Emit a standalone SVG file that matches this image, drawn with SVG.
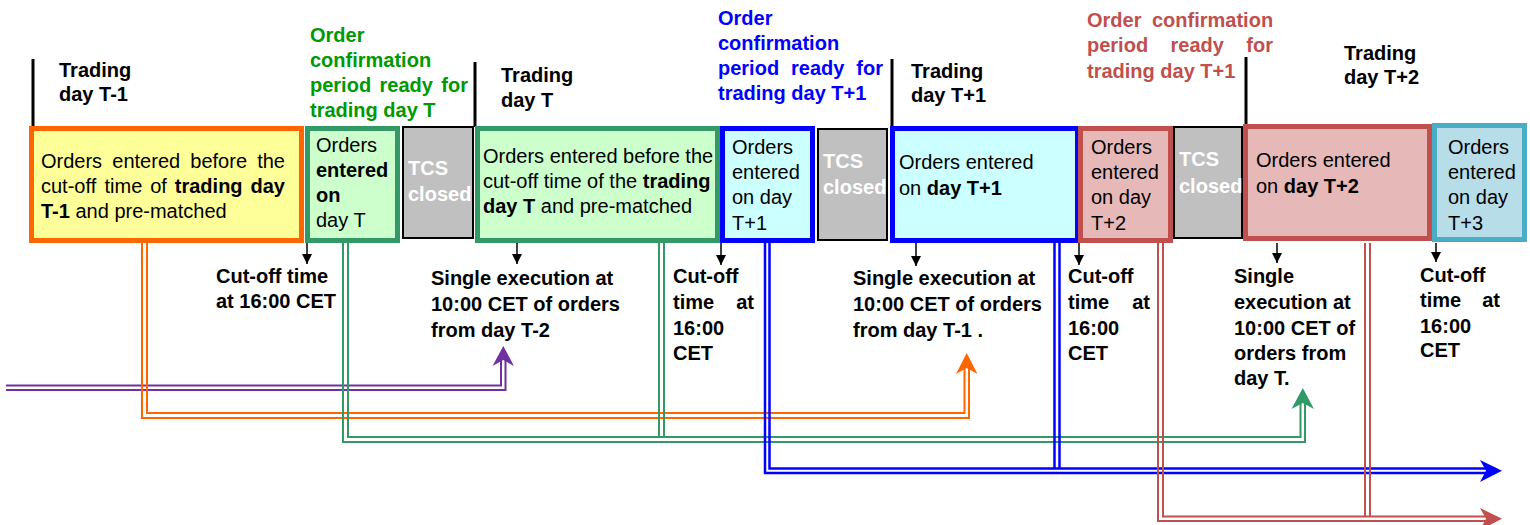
<svg xmlns="http://www.w3.org/2000/svg" width="1530" height="525" viewBox="0 0 1530 525">
<defs>
<style>
text{font-family:"Liberation Sans",Arial,sans-serif;font-size:20px;fill:#000}
.b{font-weight:bold}
.w{fill:#fff;font-weight:bold}
.gt{fill:#009900;font-weight:bold}
.bt{fill:#0000ff;font-weight:bold}
.rt{fill:#c0504d;font-weight:bold}
.bar{stroke:#000;stroke-width:3}
.tick{stroke:#000;stroke-width:1.5;fill:none}
.or{fill:#ffff99;stroke:#ff6600;stroke-width:5}
.gr{fill:#ccffcc;stroke:#339966;stroke-width:5}
.gy{fill:#c0c0c0;stroke:#000;stroke-width:2}
.bl{fill:#ccffff;stroke:#0000ff;stroke-width:5}
.rd{fill:#e6b9b8;stroke:#c0504d;stroke-width:5}
.tl{fill:#b7dde8;stroke:#4bacc6;stroke-width:5}
.c{fill:none;stroke-width:2}
.cp{stroke:#7030a0}
.co{stroke:#ff6600}
.cg{stroke:#339966}
.cb{stroke:#0000ff;stroke-width:2.5}
.cr{stroke:#c0504d}
</style>
<marker id="ah" viewBox="0 0 10 10" refX="10" refY="5" markerWidth="10" markerHeight="10" markerUnits="userSpaceOnUse" orient="auto">
<path d="M0,0 L10,5 L0,10 z" fill="#000"/>
</marker>
</defs>
<rect width="1530" height="525" fill="#fff"/>

<g id="day-bars">
<line class="bar" x1="33" y1="59" x2="33" y2="127"/>
<line class="bar" x1="475" y1="62" x2="475" y2="127"/>
<line class="bar" x1="892" y1="59" x2="892" y2="127"/>
<line class="bar" x1="1246" y1="57" x2="1246" y2="126"/>
</g>

<g id="label-trading-t-1"><text class="b" x="59" y="77">Trading</text><text class="b" x="59" y="101">day T-1</text></g>
<g id="label-confirm-t">
<text class="gt" x="310" y="42">Order</text>
<text class="gt" x="310" y="67">confirmation</text>
<text class="gt" y="92"><tspan x="310">period</tspan><tspan x="379.5">ready</tspan><tspan x="441.3">for</tspan></text>
<text class="gt" x="310" y="117">trading day T</text>
</g>
<g id="label-trading-t"><text class="b" x="501" y="82">Trading</text><text class="b" x="501" y="107">day T</text></g>
<g id="label-confirm-t1">
<text class="bt" x="718" y="25">Order</text>
<text class="bt" x="718" y="50">confirmation</text>
<text class="bt" y="75"><tspan x="718">period</tspan><tspan x="791">ready</tspan><tspan x="856.3">for</tspan></text>
<text class="bt" x="718" y="100">trading day T+1</text>
</g>
<g id="label-trading-t1"><text class="b" x="911" y="78">Trading</text><text class="b" x="911" y="102">day T+1</text></g>
<g id="label-confirm-t1b">
<text class="rt" y="27"><tspan x="1087">Order</tspan><tspan x="1152">confirmation</tspan></text>
<text class="rt" y="52"><tspan x="1087">period</tspan><tspan x="1170.5">ready</tspan><tspan x="1246.3">for</tspan></text>
<text class="rt" x="1087" y="78">trading day T+1</text>
</g>
<g id="label-trading-t2"><text class="b" x="1344" y="60">Trading</text><text class="b" x="1344" y="84">day T+2</text></g>

<g id="box-t-1">
<rect class="or" x="31.5" y="128.5" width="270" height="112"/>
<text y="168"><tspan x="41">Orders</tspan><tspan x="112.3">entered</tspan><tspan x="190.3">before</tspan><tspan x="257.2">the</tspan></text>
<text y="193"><tspan x="41">cut-off</tspan><tspan x="104.5">time</tspan><tspan x="150.2">of</tspan><tspan class="b" x="174.8">trading</tspan><tspan class="b" x="250.5">day</tspan></text>
<text x="41" y="218"><tspan class="b">T-1</tspan> and pre-matched</text>
</g>
<g id="box-entered-t">
<rect class="gr" x="307.5" y="128.5" width="90" height="112"/>
<text x="316" y="152">Orders</text>
<text class="b" x="316" y="177">entered</text>
<text class="b" x="316" y="202">on</text>
<text x="316" y="227">day T</text>
</g>
<g id="tcs-1">
<rect class="gy" x="403" y="127" width="70" height="111"/>
<text class="w" x="408" y="175">TCS</text>
<text class="w" x="408" y="201">closed</text>
</g>
<g id="box-t">
<rect class="gr" x="477.5" y="128.5" width="240" height="112"/>
<text x="483" y="163">Orders entered before the</text>
<text x="483" y="188">cut-off time of the <tspan class="b">trading</tspan></text>
<text x="483" y="213"><tspan class="b">day T</tspan> and pre-matched</text>
</g>
<g id="box-entered-t1">
<rect class="bl" x="722.5" y="128.5" width="90" height="112"/>
<text x="732" y="154">Orders</text>
<text x="732" y="179">entered</text>
<text x="732" y="204">on day</text>
<text x="732" y="230">T+1</text>
</g>
<g id="tcs-2">
<rect class="gy" x="818" y="129" width="69" height="111"/>
<text class="w" x="823" y="168">TCS</text>
<text class="w" x="823" y="194">closed</text>
</g>
<g id="box-t1">
<rect class="bl" x="892.5" y="128.5" width="185" height="112"/>
<text x="899" y="169">Orders entered</text>
<text x="899" y="195">on <tspan class="b">day T+1</tspan></text>
</g>
<g id="box-entered-t2">
<rect class="rd" x="1080.5" y="128.5" width="90" height="112"/>
<text x="1091" y="154">Orders</text>
<text x="1091" y="179">entered</text>
<text x="1091" y="204">on day</text>
<text x="1091" y="230">T+2</text>
</g>
<g id="tcs-3">
<rect class="gy" x="1174" y="127" width="68" height="111"/>
<text class="w" x="1179" y="166">TCS</text>
<text class="w" x="1179" y="193">closed</text>
</g>
<g id="box-t2">
<rect class="rd" x="1245.5" y="126.5" width="184" height="112"/>
<text x="1256" y="167">Orders entered</text>
<text x="1256" y="193">on <tspan class="b">day T+2</tspan></text>
</g>
<g id="box-entered-t3">
<rect class="tl" x="1434.5" y="125.5" width="90" height="114"/>
<text x="1448" y="154">Orders</text>
<text x="1448" y="179">entered</text>
<text x="1448" y="204">on day</text>
<text x="1448" y="230">T+3</text>
</g>

<g id="event-labels">
<text class="b" x="216" y="283">Cut-off time</text>
<text class="b" x="216" y="308">at 16:00 CET</text>
<text class="b" x="431" y="285">Single execution at</text>
<text class="b" x="431" y="311">10:00 CET of orders</text>
<text class="b" x="431" y="337">from day T-2</text>
<text class="b" x="673" y="283">Cut-off</text>
<text class="b" y="309"><tspan x="673">time</tspan><tspan x="736.2">at</tspan></text>
<text class="b" x="673" y="335">16:00</text>
<text class="b" x="673" y="360">CET</text>
<text class="b" x="853" y="285">Single execution at</text>
<text class="b" x="853" y="311">10:00 CET of orders</text>
<text class="b" x="853" y="337">from day T-1 .</text>
<text class="b" x="1068" y="283">Cut-off</text>
<text class="b" y="309"><tspan x="1068">time</tspan><tspan x="1132.2">at</tspan></text>
<text class="b" x="1068" y="335">16:00</text>
<text class="b" x="1068" y="360">CET</text>
<text class="b" x="1234" y="283">Single</text>
<text class="b" x="1234" y="309">execution at</text>
<text class="b" x="1234" y="335">10:00 CET of</text>
<text class="b" x="1234" y="360">orders from</text>
<text class="b" x="1234" y="385">day T.</text>
<text class="b" x="1420" y="282">Cut-off</text>
<text class="b" y="307"><tspan x="1420">time</tspan><tspan x="1482.2">at</tspan></text>
<text class="b" x="1420" y="333">16:00</text>
<text class="b" x="1420" y="357">CET</text>
</g>

<g id="connectors">
<line class="tick" x1="307" y1="243" x2="307" y2="264" marker-end="url(#ah)"/>
<line class="tick" x1="517" y1="243" x2="517" y2="264" marker-end="url(#ah)"/>
<line class="tick" x1="721" y1="243" x2="721" y2="265" marker-end="url(#ah)"/>
<line class="tick" x1="916" y1="243" x2="916" y2="266" marker-end="url(#ah)"/>
<line class="tick" x1="1079" y1="243" x2="1079" y2="265" marker-end="url(#ah)"/>
<line class="tick" x1="1277" y1="243" x2="1277" y2="263" marker-end="url(#ah)"/>
<line class="tick" x1="1436" y1="243" x2="1436" y2="262" marker-end="url(#ah)"/>

<path class="c cp" d="M6,385.5 H501 V360"/>
<path class="c cp" d="M6,390 H505.5 V360"/>
<polygon fill="#7030a0" points="503.3,346 514,366 503.3,360 492.5,366"/>

<path class="c co" d="M142,243 V418 H969 V368"/>
<path class="c co" d="M147,243 V413 H964.5 V368"/>
<polygon fill="#ff6600" points="966.7,353 977.5,374 966.7,368 956,374"/>

<path class="c cg" d="M343,243 V442 H1305 V402"/>
<path class="c cg" d="M348,243 V437 H1300.5 V402"/>
<path class="c cg" d="M659,243 V437"/>
<path class="c cg" d="M664,243 V437"/>
<polygon fill="#339966" points="1302.8,388 1314,409 1302.8,403 1291.5,409"/>

<path class="c cb" d="M765,243 V473 H1488"/>
<path class="c cb" d="M769.5,243 V468.5 H1488"/>
<path class="c cb" d="M1054.5,243 V468.5"/>
<path class="c cb" d="M1059.5,243 V468.5"/>
<polygon fill="#0000ff" points="1502,470.8 1480,460 1486,470.8 1480,482"/>

<path class="c cr" d="M1158,243 V521 H1488"/>
<path class="c cr" d="M1163,243 V516.5 H1488"/>
<path class="c cr" d="M1365,243 V516.5"/>
<path class="c cr" d="M1370,243 V516.5"/>
<polygon fill="#c0504d" points="1502,518.8 1480,508 1486,518.8 1480,530"/>
</g>
</svg>
